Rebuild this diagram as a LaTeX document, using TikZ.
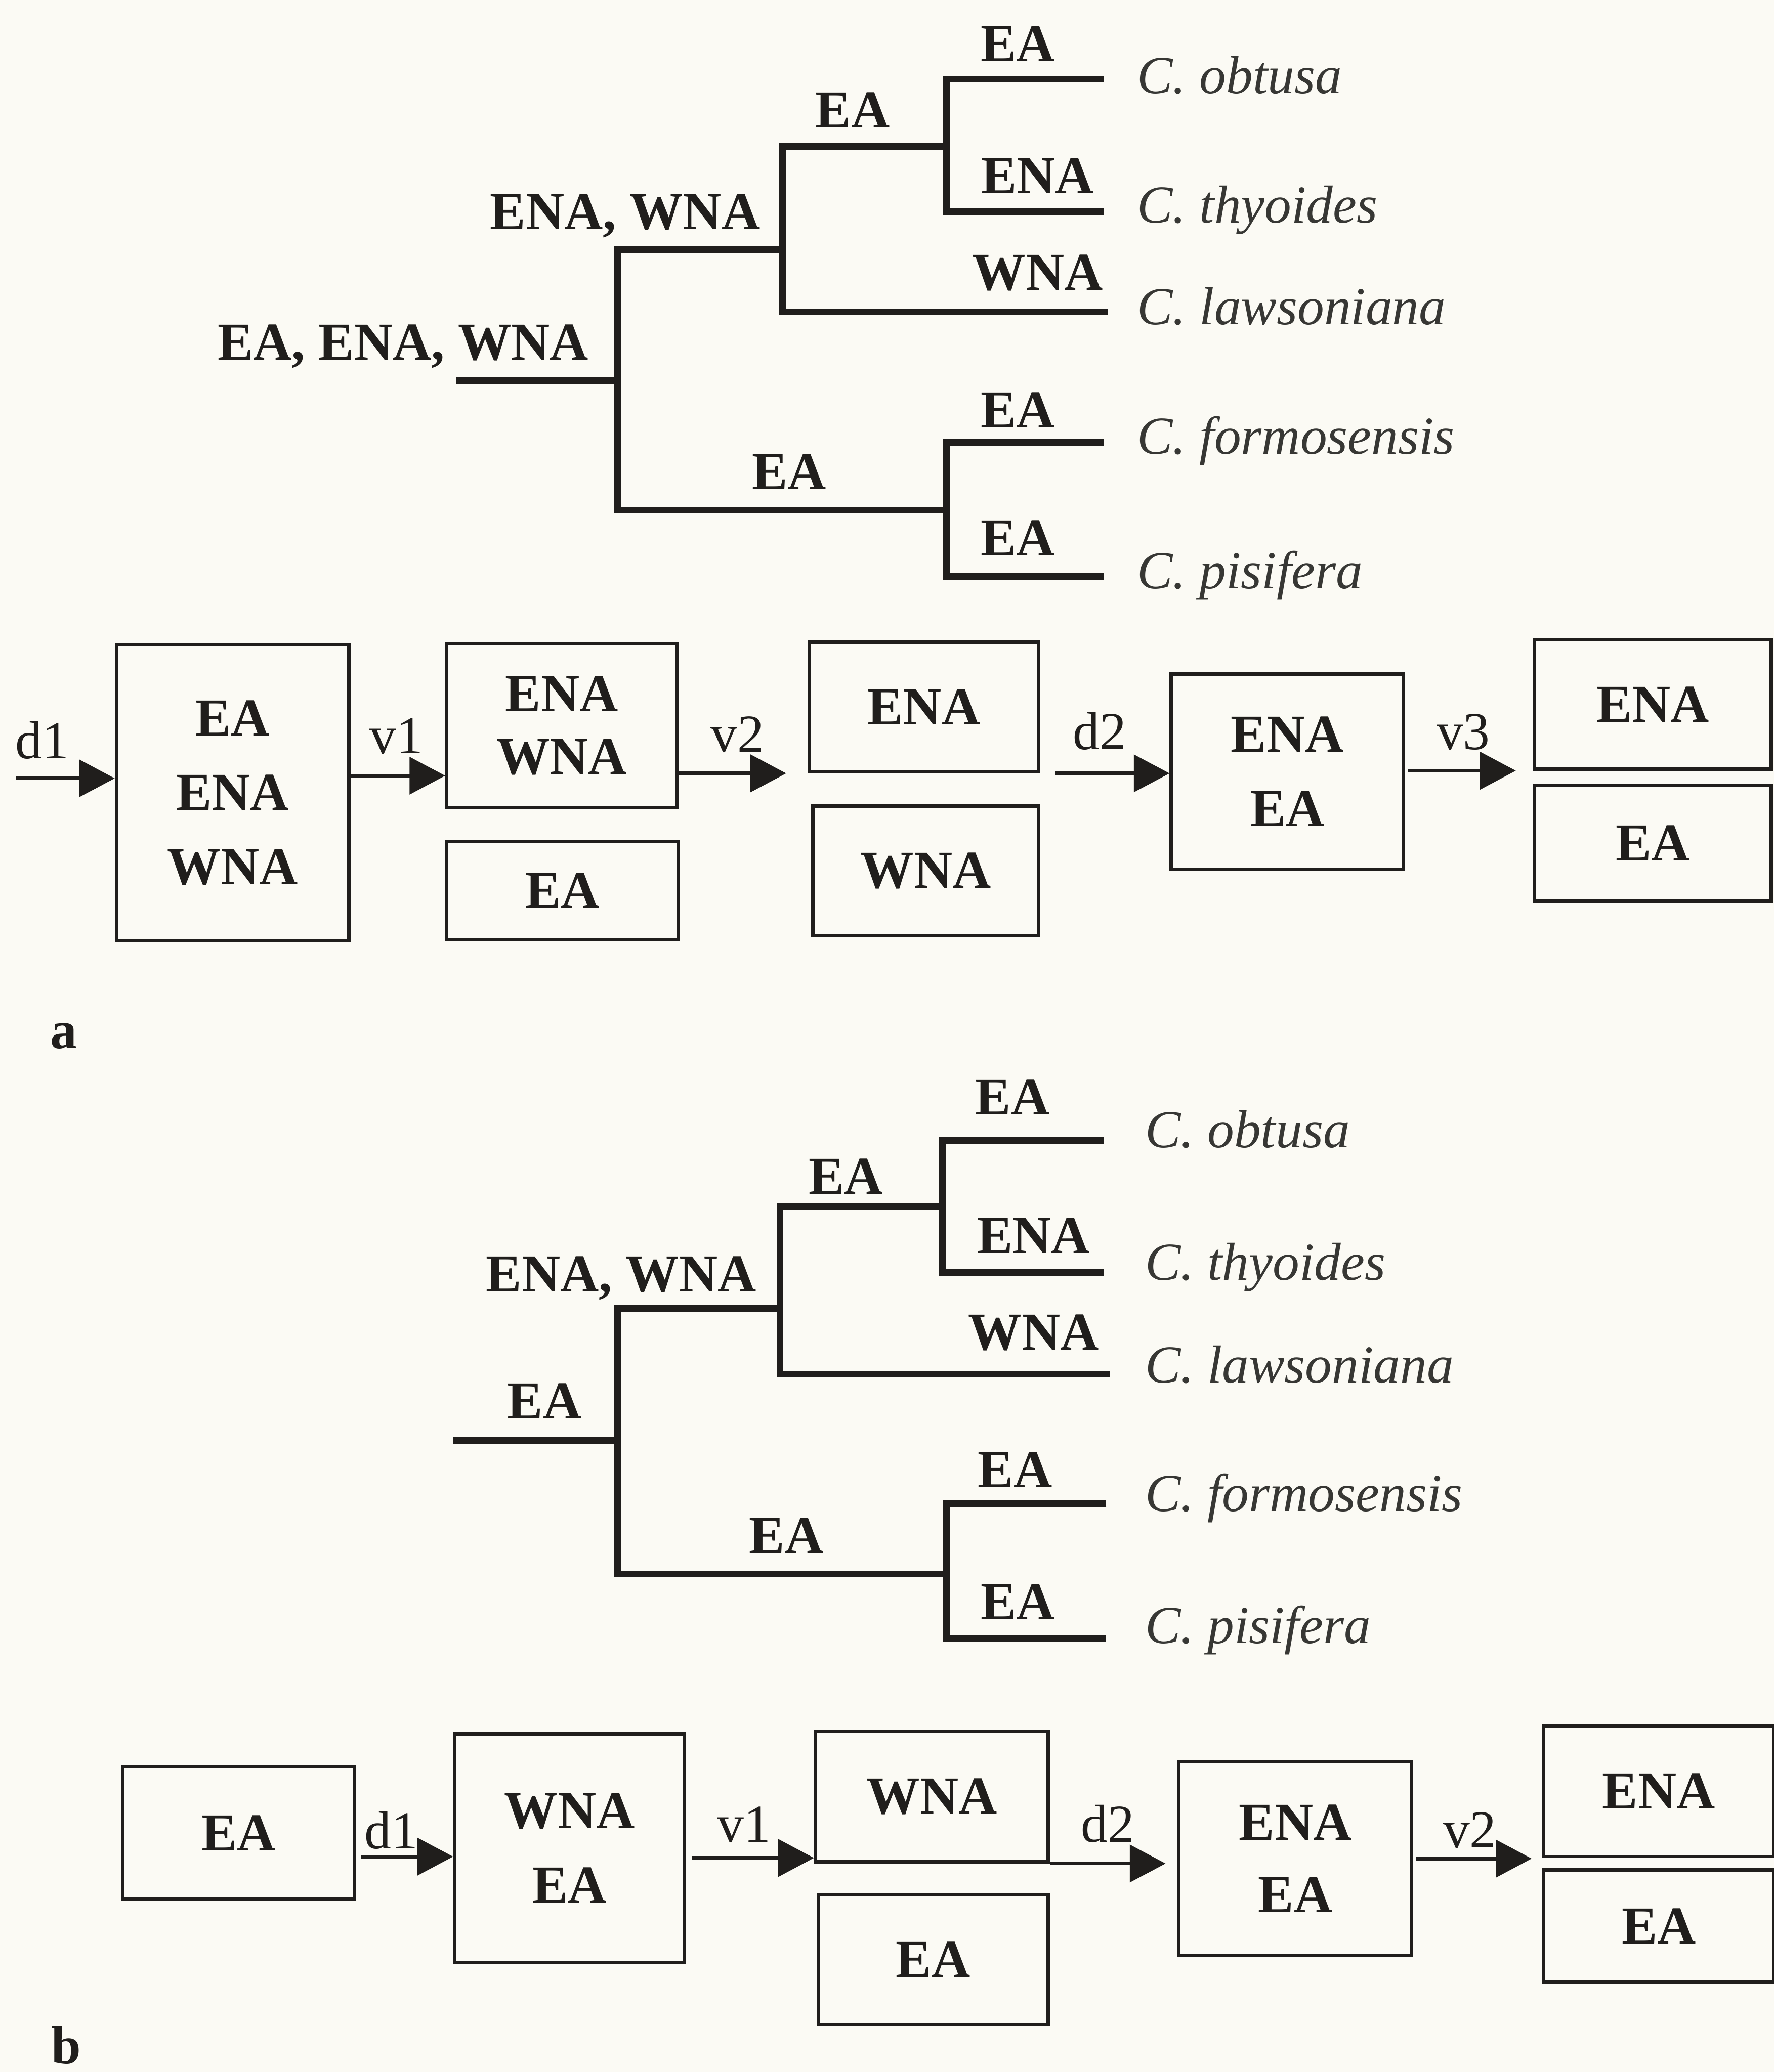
\documentclass[tikz,border=0pt]{standalone}
\usepackage{fontspec}
\setmainfont{Liberation Serif}
\usetikzlibrary{arrows.meta}
\definecolor{paper}{RGB}{251,250,244}
\definecolor{ink}{RGB}{32,30,28}
\definecolor{softink}{RGB}{55,55,52}
\tikzset{
  lab/.style={font=\fontsize{23}{28}\selectfont\bfseries, text=ink, inner sep=0pt,
              text height=15.4pt, text depth=0pt},
  sp/.style={font=\fontsize{23}{28}\selectfont\itshape, text=softink, inner sep=0pt,
             anchor=west, text height=15.4pt, text depth=0pt},
  arlab/.style={font=\fontsize{23}{28}\selectfont, text=ink, inner sep=0pt,
                text height=16pt, text depth=0pt},
  branch/.style={draw=ink, line width=2.9pt, line join=miter},
  box/.style={draw=ink, line width=1.4pt, inner sep=0pt, align=center,
              font=\fontsize{23}{28}\selectfont\bfseries, text=ink},
  arr/.style={draw=ink, line width=1.5pt, -{Triangle[length=0.54cm,width=0.56cm]}},
}
\begin{document}
\begin{tikzpicture}[x=0.02cm,y=-0.02cm]
\fill[paper] (0,0) rectangle (1342,1568);
\useasboundingbox (0,0) rectangle (1342,1568);

% ---------------- panel a: tree ----------------
\draw[branch] (835,60) -- (716,60) -- (716,160) -- (835,160);
\draw[branch] (716,111) -- (592,111) -- (592,236) -- (838,236);
\draw[branch] (592,189) -- (467,189) -- (467,386) -- (716,386);
\draw[branch] (835,335) -- (716,335) -- (716,436) -- (835,436);
\draw[branch] (345,288) -- (467,288);

\node[lab] (at1) at (770,33) {EA};
\node[lab] (at2) at (645,83) {EA};
\node[lab] (at3) at (785,133) {ENA};
\node[lab] (at4) at (473,160) {ENA, WNA};
\node[lab] (at5) at (785,206) {WNA};
\node[lab] (at6) at (305,259) {EA, ENA, WNA};
\node[lab] (at7) at (770,310) {EA};
\node[lab] (at8) at (597,357) {EA};
\node[lab] (at9) at (770,407) {EA};

\node[sp] (as1) at (860,57)  {C. obtusa};
\node[sp] (as2) at (860,155) {C. thyoides};
\node[sp] (as3) at (860,232) {C. lawsoniana};
\node[sp] (as4) at (860,330) {C. formosensis};
\node[sp] (as5) at (860,432) {C. pisifera};

% ---------------- panel a: boxes ----------------
\node[box, minimum width=3.52cm, minimum height=4.48cm] (A1)  at (176,600)    {EA\\[4pt]ENA\\[4pt]WNA};
\node[box, minimum width=3.48cm, minimum height=2.48cm] (A2t) at (425,549)    {ENA\\[-1pt]WNA};
\node[box, minimum width=3.50cm, minimum height=1.48cm] (A2b) at (425.5,674)  {EA};
\node[box, minimum width=3.48cm, minimum height=1.96cm] (A3t) at (699,535)    {ENA};
\node[box, minimum width=3.42cm, minimum height=1.96cm] (A3b) at (700.5,659)  {WNA};
\node[box, minimum width=3.52cm, minimum height=2.96cm] (A4)  at (974,584)    {ENA\\[4pt]EA};
\node[box, minimum width=3.58cm, minimum height=1.96cm] (A5t) at (1250.5,533) {ENA};
\node[box, minimum width=3.58cm, minimum height=1.76cm] (A5b) at (1250.5,638) {EA};

\coordinate (ad1) at (12,589);
\draw[arr] (ad1) -- (ad1 -| A1.west);
\draw[arr] ([yshift=0.26cm]A1.east) coordinate (av1) -- (av1 -| A2t.west);
\draw[arr, shorten >=0.32cm] (A2t.east |- A3t.south) -- (A3t.south west);
\draw[arr, shorten <=0.22cm] (A3t.south east) -- (A3t.south east -| A4.west);
\draw[arr, shorten <=0.04cm, shorten >=0.26cm] (A4.east |- A5t.south) -- (A5t.south west);

\node[arlab] (ald1) at (32,560)   {d1};
\node[arlab] (alv1) at (300,556)  {v1};
\node[arlab] (alv2) at (558,555)  {v2};
\node[arlab] (ald2) at (832,553)  {d2};
\node[arlab] (alv3) at (1107,553) {v3};

\node[lab] (pa) at (48,780) {a};

% ---------------- panel b: tree ----------------
\draw[branch] (835,863) -- (713,863) -- (713,963) -- (835,963);
\draw[branch] (713,913) -- (590,913) -- (590,1040) -- (840,1040);
\draw[branch] (590,990) -- (467,990) -- (467,1191) -- (716,1191);
\draw[branch] (837,1138) -- (716,1138) -- (716,1240) -- (837,1240);
\draw[branch] (343,1090) -- (467,1090);

\node[lab] (bt1) at (766,830)  {EA};
\node[lab] (bt2) at (640,890)  {EA};
\node[lab] (bt3) at (782,935)  {ENA};
\node[lab] (bt4) at (470,964)  {ENA, WNA};
\node[lab] (bt5) at (782,1008) {WNA};
\node[lab] (bt6) at (412,1060) {EA};
\node[lab] (bt7) at (768,1112) {EA};
\node[lab] (bt8) at (595,1162) {EA};
\node[lab] (bt9) at (770,1212) {EA};

\node[sp] (bs1) at (866,855)  {C. obtusa};
\node[sp] (bs2) at (866,955)  {C. thyoides};
\node[sp] (bs3) at (866,1033) {C. lawsoniana};
\node[sp] (bs4) at (866,1130) {C. formosensis};
\node[sp] (bs5) at (866,1230) {C. pisifera};

% ---------------- panel b: boxes ----------------
\node[box, minimum width=3.50cm, minimum height=2.00cm] (B1)  at (180.5,1387)  {EA};
\node[box, minimum width=3.48cm, minimum height=3.46cm] (B2)  at (431,1398.5)  {WNA\\[4pt]EA};
\node[box, minimum width=3.52cm, minimum height=1.98cm] (B3t) at (705,1359.5)  {WNA};
\node[box, minimum width=3.48cm, minimum height=1.96cm] (B3b) at (706,1483)    {EA};
\node[box, minimum width=3.52cm, minimum height=2.94cm] (B4)  at (980,1406.5)  {ENA\\[3pt]EA};
\node[box, minimum width=3.48cm, minimum height=1.98cm] (B5t) at (1255,1355.5) {ENA};
\node[box, minimum width=3.48cm, minimum height=1.70cm] (B5b) at (1255,1457.5) {EA};

\draw[arr, shorten <=0.08cm] ([yshift=-0.36cm]B1.east) coordinate (bd1) -- (bd1 -| B2.west);
\draw[arr, shorten <=0.08cm] ([yshift=-0.15cm]B2.east) coordinate (bv1) -- (bv1 -| B3t.west);
\draw[arr, shorten >=0.18cm] (B3t.south east) -- (B3t.south east -| B4.west);
\draw[arr, shorten <=0.04cm, shorten >=0.16cm] (B4.east) -- (B4.east -| B5t.west);

\node[arlab] (bld1) at (296,1385)  {d1};
\node[arlab] (blv1) at (563,1380)  {v1};
\node[arlab] (bld2) at (838,1380)  {d2};
\node[arlab] (blv2) at (1112,1384) {v2};

\node[lab] (pb) at (50,1548) {b};
\end{tikzpicture}
\end{document}
